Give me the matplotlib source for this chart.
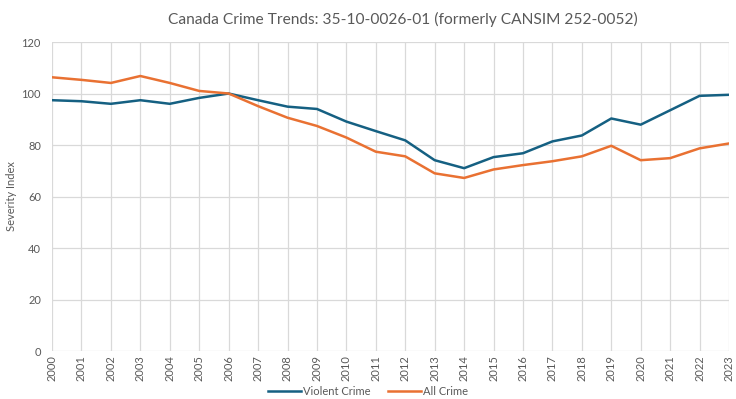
import matplotlib
matplotlib.use("Agg")
import matplotlib.pyplot as plt

years = list(range(2000, 2024))
violent = [97.4, 97.0, 96.0, 97.4, 96.0, 98.3, 100.0, 97.4, 94.9, 94.0, 89.1, 85.4,
           81.8, 74.1, 71.0, 75.3, 76.8, 81.4, 83.7, 90.3, 87.9, 93.5, 99.1, 99.5]
all_crime = [106.3, 105.3, 104.1, 106.8, 104.1, 101.0, 100.0, 95.1, 90.6, 87.4, 82.9, 77.4,
             75.6, 69.0, 67.2, 70.5, 72.2, 73.7, 75.6, 79.7, 74.1, 74.9, 78.7, 80.6]

plt.rcParams['font.family'] = ['Lato', 'DejaVu Sans']
grey = '#595959'

fig = plt.figure(figsize=(7.36, 3.99), dpi=100)
ax = fig.add_axes([0.0707, 0.1203, 0.9198, 0.7744])

ax.plot(years, violent, color='#156082', lw=1.8, label='Violent Crime')
ax.plot(years, all_crime, color='#E97132', lw=1.8, label='All Crime')

ax.set_xlim(2000, 2023)
ax.set_ylim(0, 120)
ax.set_xticks(years)
ax.set_xticklabels([str(y) for y in years], rotation=90, fontsize=8, color=grey)
ax.set_yticks(range(0, 121, 20))
ax.tick_params(axis='y', labelsize=8, labelcolor=grey, length=0, pad=8)
ax.tick_params(axis='x', length=0, pad=3)
ax.grid(True, color='#d9d9d9', lw=0.9)
ax.set_axisbelow(True)
for s in ax.spines.values():
    s.set_visible(False)

ax.set_ylabel('Severity Index', fontsize=8, color=grey, labelpad=3)
fig.text(0.548, 0.95, 'Canada Crime Trends: 35-10-0026-01 (formerly CANSIM 252-0052)',
         ha='center', va='center', fontsize=11.2, color=grey)
fig.legend(loc='center', bbox_to_anchor=(0.5, 0.018), ncol=2, frameon=False,
           fontsize=8, labelcolor=grey, handlelength=3.0, columnspacing=1.5, handletextpad=0.2)

fig.savefig('out.png', dpi=100)
